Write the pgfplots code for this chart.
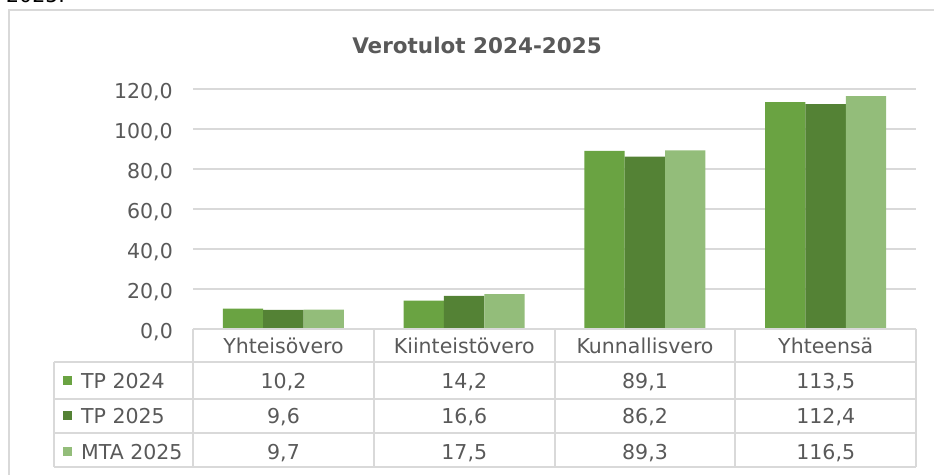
\documentclass[border=0pt]{standalone}
\usepackage{fontspec}
\setmainfont{DejaVu Sans}
\usepackage{pgfplots}
\pgfplotsset{compat=1.18}
\definecolor{txt}{HTML}{595959}
\definecolor{gridc}{HTML}{D9D9D9}
\definecolor{cA}{HTML}{6AA342}
\definecolor{cB}{HTML}{548235}
\definecolor{cC}{HTML}{93BD7A}
\newcommand{\tfont}{\fontsize{20.5bp}{24bp}\selectfont}
\begin{document}
\begin{tikzpicture}
\path[use as bounding box] (0,0) rectangle (934bp,-475bp);
\begin{scope}
\clip (0,0) rectangle (934bp,-475bp);
% text of the page above the chart (cut off)
\node[anchor=base west, inner sep=0pt, font=\tfont, text=black] at (6bp,-2bp) {2025.};
% outer chart frame
\draw[gridc, line width=2bp] (9bp,-480bp) -- (9bp,-10bp) -- (940bp,-10bp);
\end{scope}
% title
\node[font=\bfseries\fontsize{21.5bp}{25bp}\selectfont, text=txt] at (477bp,-45bp) {Verotulot 2024-2025};
\begin{axis}[
  at={(193bp,-329bp)}, anchor=south west,
  scale only axis, width=723bp, height=240bp,
  xmin=-0.5, xmax=3.5, ymin=0, ymax=120,
  ytick={0,20,...,120}, xtick=\empty,
  axis line style={draw=none},
  major tick length=0pt,
  ymajorgrids, grid style={gridc, line width=1.5bp},
  /pgf/number format/assume math mode=true,
  yticklabel={\pgfmathprintnumber[fixed, fixed zerofill, precision=1, use comma]{\tick}},
  yticklabel style={font=\tfont, text=txt, anchor=east, inner sep=0pt, xshift=-20bp, yshift=-3bp},
  clip=false,
]
\addplot[ybar, bar width=40.3bp, bar shift=-40.3bp, fill=cA, draw=none] coordinates {(0,10.2) (1,14.2) (2,89.1) (3,113.5)};
\addplot[ybar, bar width=40.3bp, bar shift=0bp, fill=cB, draw=none] coordinates {(0,9.6) (1,16.6) (2,86.2) (3,112.4)};
\addplot[ybar, bar width=40.3bp, bar shift=40.3bp, fill=cC, draw=none] coordinates {(0,9.7) (1,17.5) (2,89.3) (3,116.5)};
\end{axis}
% data table
\begin{scope}[gridc, line width=2bp]
\draw (193bp,-329bp) -- (916bp,-329bp);
\foreach \yy in {362,399,433,467} \draw (54bp,-\yy bp) -- (916bp,-\yy bp);
\draw (54bp,-362bp) -- (54bp,-467bp);
\foreach \xx in {193,374,554.5,735,916} \draw (\xx bp,-329bp) -- (\xx bp,-467bp);
\end{scope}
\begin{scope}[every node/.style={font=\tfont, text=txt, inner sep=0pt, anchor=base}]
\foreach \name [count=\i from 0] in {Yhteisövero,Kiinteistövero,Kunnallisvero,Yhteensä}
  \node at ({(283.5+180.75*\i)*1bp},-353bp) {\name};
\foreach \v [count=\i from 0] in {10{,}2,14{,}2,89{,}1,113{,}5}
  \node at ({(283.5+180.75*\i)*1bp},-388bp) {\v};
\foreach \v [count=\i from 0] in {9{,}6,16{,}6,86{,}2,112{,}4}
  \node at ({(283.5+180.75*\i)*1bp},-423bp) {\v};
\foreach \v [count=\i from 0] in {9{,}7,17{,}5,89{,}3,116{,}5}
  \node at ({(283.5+180.75*\i)*1bp},-459bp) {\v};
\node[anchor=base west] at (81bp,-388bp) {TP 2024};
\node[anchor=base west] at (81bp,-423bp) {TP 2025};
\node[anchor=base west] at (81bp,-459bp) {MTA 2025};
\end{scope}
\fill[cA] (63bp,-376bp) rectangle (72bp,-385bp);
\fill[cB] (63bp,-411bp) rectangle (72bp,-420bp);
\fill[cC] (63bp,-447bp) rectangle (72bp,-456bp);
\end{tikzpicture}
\end{document}
